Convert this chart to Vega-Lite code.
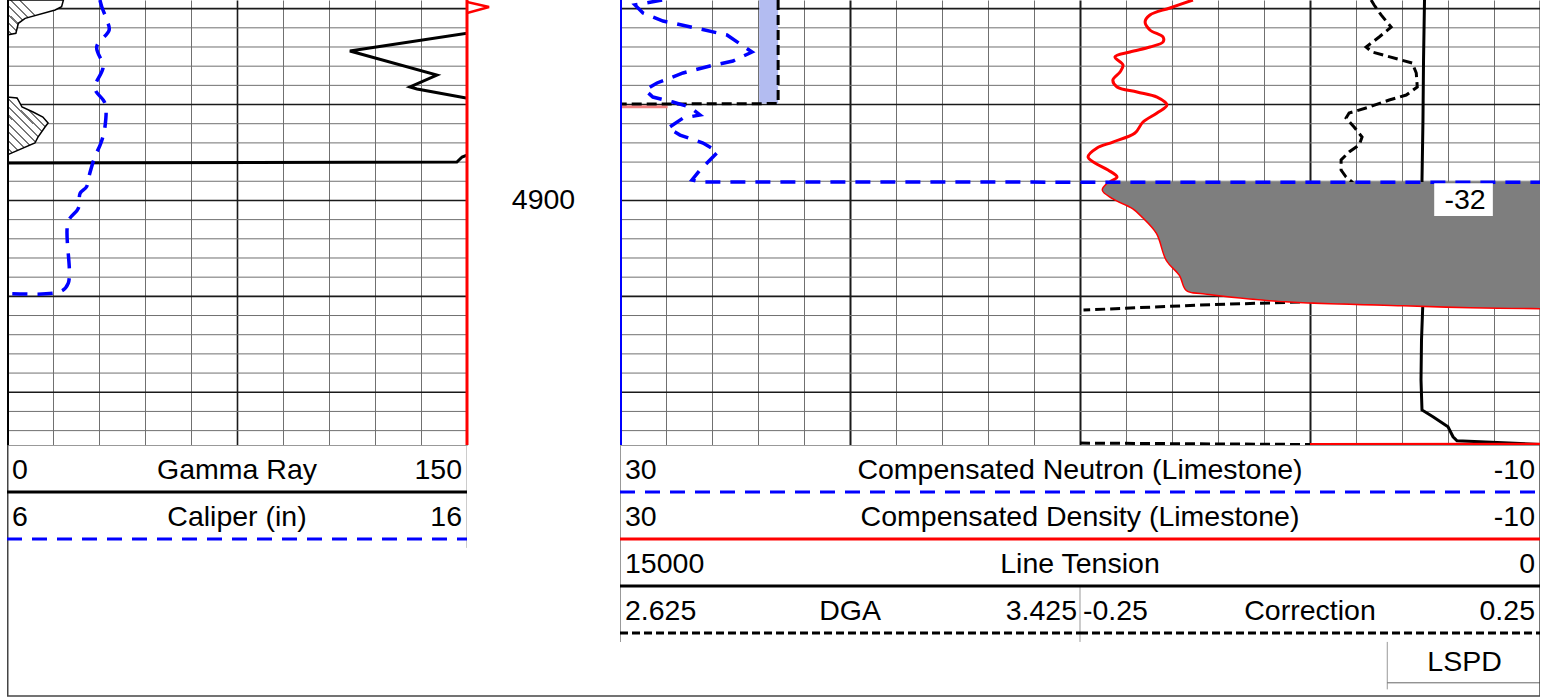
{
"$schema": "https://vega.github.io/schema/vega-lite/v6.json",
"padding": {"left": 7, "top": 0, "right": 0, "bottom": 0},
"autosize": {"type": "pad"},
"config": {"view": {"stroke": null}, "font": "Liberation Sans", "axis": {"minExtent": 0, "maxExtent": 0}, "text": {"font": "Liberation Sans", "fontSize": 28.5, "color": "#000000"}},
"datasets": {
"ygrid": [{"depth":4880},{"depth":4882},{"depth":4884},{"depth":4886},{"depth":4888},{"depth":4890},{"depth":4892},{"depth":4894},{"depth":4896},{"depth":4898},{"depth":4900},{"depth":4902},{"depth":4904},{"depth":4906},{"depth":4908},{"depth":4910},{"depth":4912},{"depth":4914},{"depth":4916},{"depth":4918},{"depth":4920},{"depth":4922},{"depth":4924}],
"gr": [{"depth":4879.10,"gr":185},{"depth":4882.23,"gr":165},{"depth":4882.54,"gr":150.5},{"depth":4884.42,"gr":111.8},{"depth":4886.92,"gr":140.2},{"depth":4888.17,"gr":131.4},{"depth":4888.38,"gr":133.7},{"depth":4889.32,"gr":149.7},{"depth":4889.53,"gr":170},{"depth":4895.16,"gr":151},{"depth":4895.47,"gr":148.4},{"depth":4895.99,"gr":146.7},{"depth":4896.10,"gr":0},{"depth":4925.50,"gr":0}],
"cal": [{"depth":4879.10,"cal":8.02},{"depth":4879.80,"cal":8.06},{"depth":4881.19,"cal":8.17},{"depth":4882.23,"cal":8.22},{"depth":4883.97,"cal":7.95},{"depth":4886.06,"cal":8.09},{"depth":4888.31,"cal":7.91},{"depth":4889.87,"cal":8.13},{"depth":4892.31,"cal":8.13},{"depth":4894.04,"cal":8.04},{"depth":4895.44,"cal":7.91},{"depth":4897.17,"cal":7.80},{"depth":4898.57,"cal":7.73},{"depth":4899.26,"cal":7.59},{"depth":4900.82,"cal":7.55},{"depth":4902.22,"cal":7.33},{"depth":4908.64,"cal":7.33},{"depth":4909.52,"cal":7.15},{"depth":4909.69,"cal":5.99}],
"hatch": [{"depth":4879.10,"shale":18.4},{"depth":4879.80,"shale":17.8},{"depth":4880.14,"shale":15.7},{"depth":4881.01,"shale":5.9},{"depth":4881.53,"shale":3.7},{"depth":4882.57,"shale":2.9},{"depth":4882.75,"shale":0},{"depth":4889.22,"shale":0},{"depth":4889.32,"shale":3.3},{"depth":4890.26,"shale":4.9},{"depth":4890.78,"shale":8.5},{"depth":4891.30,"shale":11.7},{"depth":4891.93,"shale":13.4},{"depth":4892.34,"shale":12.4},{"depth":4893.39,"shale":10.1},{"depth":4894.01,"shale":9.1},{"depth":4895.26,"shale":0}],
"redspike": [{"depth":4879.31,"v":150},{"depth":4879.83,"v":157.2},{"depth":4880.46,"v":150}],
"nphi": [{"depth":4879.10,"nphi":28.17},{"depth":4879.62,"nphi":29.35},{"depth":4880.46,"nphi":29.00},{"depth":4881.29,"nphi":28.13},{"depth":4881.60,"nphi":27.52},{"depth":4882.12,"nphi":26.52},{"depth":4882.75,"nphi":25.35},{"depth":4884.52,"nphi":24.26},{"depth":4885.46,"nphi":25.09},{"depth":4885.98,"nphi":26.09},{"depth":4886.71,"nphi":27.26},{"depth":4887.75,"nphi":28.39},{"depth":4888.49,"nphi":28.91},{"depth":4889.22,"nphi":28.57},{"depth":4889.74,"nphi":27.70},{"depth":4890.26,"nphi":26.96},{"depth":4891.09,"nphi":26.52},{"depth":4891.41,"nphi":27.26},{"depth":4892.45,"nphi":27.91},{"depth":4893.18,"nphi":27.39},{"depth":4894.01,"nphi":26.39},{"depth":4894.95,"nphi":25.74},{"depth":4895.78,"nphi":26.09},{"depth":4896.83,"nphi":26.52},{"depth":4897.87,"nphi":26.87},{"depth":4898.08,"nphi":26.52},{"depth":4898.12,"nphi":-32},{"depth":4925.30,"nphi":-32}],
"pe": [{"depth":4890.23,"pe":30},{"depth":4890.23,"pe":27.93}],
"dens": [{"seg":1,"depth":4879.10,"dens":5.09},{"seg":1,"depth":4879.93,"dens":6.09},{"seg":1,"depth":4880.66,"dens":6.96},{"seg":1,"depth":4881.39,"dens":7.17},{"seg":1,"depth":4882.23,"dens":6.96},{"seg":1,"depth":4882.96,"dens":6.39},{"seg":1,"depth":4883.48,"dens":6.39},{"seg":1,"depth":4884.00,"dens":6.96},{"seg":1,"depth":4884.52,"dens":7.83},{"seg":1,"depth":4885.04,"dens":8.48},{"seg":1,"depth":4885.88,"dens":8.13},{"seg":1,"depth":4886.61,"dens":8.26},{"seg":1,"depth":4887.44,"dens":8.57},{"seg":1,"depth":4888.17,"dens":8.39},{"seg":1,"depth":4888.69,"dens":7.52},{"seg":1,"depth":4889.22,"dens":6.65},{"seg":1,"depth":4890.05,"dens":6.22},{"seg":1,"depth":4890.88,"dens":6.65},{"seg":1,"depth":4891.82,"dens":7.26},{"seg":1,"depth":4892.97,"dens":7.61},{"seg":1,"depth":4893.91,"dens":8.57},{"seg":1,"depth":4894.53,"dens":9.26},{"seg":1,"depth":4895.47,"dens":9.65},{"seg":1,"depth":4896.10,"dens":9.35},{"seg":1,"depth":4896.83,"dens":8.78},{"seg":1,"depth":4897.56,"dens":8.39},{"seg":1,"depth":4898.08,"dens":8.70},{"seg":1,"depth":4898.91,"dens":9.00},{"seg":1,"depth":4899.75,"dens":8.57},{"seg":1,"depth":4900.79,"dens":7.70},{"seg":1,"depth":4901.73,"dens":7.26},{"seg":1,"depth":4903.40,"dens":6.65},{"seg":1,"depth":4906.21,"dens":6.22},{"seg":1,"depth":4907.78,"dens":5.65},{"seg":1,"depth":4909.34,"dens":5.35},{"seg":1,"depth":4909.65,"dens":4.65},{"seg":1,"depth":4910.38,"dens":1.74},{"seg":1,"depth":4910.59,"dens":0.30},{"seg":1,"depth":4910.91,"dens":-4.04},{"seg":1,"depth":4911.11,"dens":-6.96},{"seg":1,"depth":4911.22,"dens":-10.0},{"seg":1,"depth":4911.32,"dens":-12.6},{"seg":1,"depth":4911.50,"dens":-40},{"seg":2,"depth":4925.30,"dens":-40},{"seg":2,"depth":4925.45,"dens":0}],
"tens": [{"depth":4879.10,"tens":1883},{"depth":4885.36,"tens":1899},{"depth":4891.61,"tens":1908},{"depth":4897.87,"tens":1924},{"depth":4904.13,"tens":1916},{"depth":4910.38,"tens":1908},{"depth":4914.56,"tens":1932},{"depth":4918.73,"tens":1940},{"depth":4921.85,"tens":1924},{"depth":4922.55,"tens":1745},{"depth":4923.60,"tens":1500},{"depth":4924.64,"tens":1418},{"depth":4925.06,"tens":1353},{"depth":4925.26,"tens":603},{"depth":4925.45,"tens":0}],
"dga": [{"depth":4879.10,"dga":2.900},{"depth":4889.90,"dga":2.900},{"depth":4889.98,"dga":2.50},{"depth":4925.50,"dga":2.50}],
"corr": [{"seg":1,"depth":4879.10,"corr":0.0664},{"seg":1,"depth":4879.62,"corr":0.0697},{"seg":1,"depth":4880.66,"corr":0.0773},{"seg":1,"depth":4881.92,"corr":0.0882},{"seg":1,"depth":4882.96,"corr":0.0752},{"seg":1,"depth":4884.00,"corr":0.0610},{"seg":1,"depth":4884.52,"corr":0.0675},{"seg":1,"depth":4885.67,"corr":0.1111},{"seg":1,"depth":4886.71,"corr":0.1155},{"seg":1,"depth":4888.17,"corr":0.1166},{"seg":1,"depth":4889.01,"corr":0.1046},{"seg":1,"depth":4889.53,"corr":0.0861},{"seg":1,"depth":4890.26,"corr":0.0643},{"seg":1,"depth":4890.88,"corr":0.0425},{"seg":1,"depth":4891.41,"corr":0.0392},{"seg":1,"depth":4892.34,"corr":0.0479},{"seg":1,"depth":4893.39,"corr":0.0566},{"seg":1,"depth":4894.22,"corr":0.0534},{"seg":1,"depth":4894.95,"corr":0.0425},{"seg":1,"depth":4895.78,"corr":0.0338},{"seg":1,"depth":4896.83,"corr":0.0338},{"seg":1,"depth":4897.56,"corr":0.0392},{"seg":1,"depth":4898.08,"corr":0.0458},{"seg":1,"depth":4904.13,"corr":0.0316},{"seg":1,"depth":4910.59,"corr":-0.0120},{"seg":1,"depth":4910.91,"corr":-0.1209},{"seg":1,"depth":4911.43,"corr":-0.2462},{"seg":2,"depth":4925.30,"corr":-0.25},{"seg":2,"depth":4925.45,"corr":0}],
"depthlbl": [{"depth":4900,"label":"4900"}],
"offlbl": [{"depth":4899.95,"label":"-32"}],
"one": [{"id":1}],
"lspd": [{"label":"LSPD"}],
"hdrL": [{"row":1,"curve":"Gamma Ray","lo":"0","hi":"150"},{"row":2,"curve":"Caliper (in)","lo":"6","hi":"16"}],
"hdrR": [{"row":1,"curve":"Compensated Neutron (Limestone)","lo":"30","hi":"-10"},{"row":2,"curve":"Compensated Density (Limestone)","lo":"30","hi":"-10"},{"row":3,"curve":"Line Tension","lo":"15000","hi":"0"},{"row":4,"curve":"DGA","lo":"2.625","hi":"3.425"},{"row":4,"curve":"Correction","lo":"-0.25","hi":"0.25"}]
},
"spacing": 0,
"resolve": {"scale": {"x": "independent", "y": "independent", "color": "independent", "strokeDash": "independent"}, "axis": {"x": "independent", "y": "independent"}},
"vconcat": [
{"hconcat": [
 {"width": 460, "height": 445,
  "resolve": {"scale": {"x": "independent"}},
  "layer": [
   {"data": {"name": "ygrid"}, "mark": {"type": "rule", "clip": true},
    "encoding": {"y": {"field": "depth", "type": "quantitative", "scale": {"domain": [4879.1, 4925.5], "reverse": true, "nice": false, "zero": false}, "axis": null},
     "color": {"condition": {"test": "datum.depth % 10 === 0", "value": "#1a1a1a"}, "value": "#707070"},
     "strokeWidth": {"condition": {"test": "datum.depth % 10 === 0", "value": 1.6}, "value": 1}}},
   {"data": {"name": "hatch"}, "mark": {"type": "area", "orient": "horizontal", "stroke": "#000000", "strokeWidth": 1.5, "clip": true,
     "fill": {"gradient": "linear", "x1": 0, "y1": 1, "x2": 0.361, "y2": 0, "stops": [
      {"offset":0,"color":"#ffffff"},{"offset":0.036,"color":"#ffffff"},{"offset":0.036,"color":"#777777"},{"offset":0.048,"color":"#777777"},
      {"offset":0.048,"color":"#ffffff"},{"offset":0.084,"color":"#ffffff"},{"offset":0.084,"color":"#777777"},{"offset":0.096,"color":"#777777"},
      {"offset":0.096,"color":"#ffffff"},{"offset":0.132,"color":"#ffffff"},{"offset":0.132,"color":"#777777"},{"offset":0.144,"color":"#777777"},
      {"offset":0.144,"color":"#ffffff"},{"offset":0.180,"color":"#ffffff"},{"offset":0.180,"color":"#777777"},{"offset":0.192,"color":"#777777"},
      {"offset":0.192,"color":"#ffffff"},{"offset":0.228,"color":"#ffffff"},{"offset":0.228,"color":"#777777"},{"offset":0.240,"color":"#777777"},
      {"offset":0.240,"color":"#ffffff"},{"offset":0.276,"color":"#ffffff"},{"offset":0.276,"color":"#777777"},{"offset":0.288,"color":"#777777"},
      {"offset":0.288,"color":"#ffffff"},{"offset":0.324,"color":"#ffffff"},{"offset":0.324,"color":"#777777"},{"offset":0.336,"color":"#777777"},
      {"offset":0.336,"color":"#ffffff"},{"offset":0.372,"color":"#ffffff"},{"offset":0.372,"color":"#777777"},{"offset":0.384,"color":"#777777"},
      {"offset":0.384,"color":"#ffffff"},{"offset":0.420,"color":"#ffffff"},{"offset":0.420,"color":"#777777"},{"offset":0.432,"color":"#777777"},
      {"offset":0.432,"color":"#ffffff"},{"offset":0.468,"color":"#ffffff"},{"offset":0.468,"color":"#777777"},{"offset":0.480,"color":"#777777"},
      {"offset":0.480,"color":"#ffffff"},{"offset":0.516,"color":"#ffffff"},{"offset":0.516,"color":"#777777"},{"offset":0.528,"color":"#777777"},
      {"offset":0.528,"color":"#ffffff"},{"offset":0.564,"color":"#ffffff"},{"offset":0.564,"color":"#777777"},{"offset":0.576,"color":"#777777"},
      {"offset":0.576,"color":"#ffffff"},{"offset":0.612,"color":"#ffffff"},{"offset":0.612,"color":"#777777"},{"offset":0.624,"color":"#777777"},
      {"offset":0.624,"color":"#ffffff"},{"offset":0.660,"color":"#ffffff"},{"offset":0.660,"color":"#777777"},{"offset":0.672,"color":"#777777"},
      {"offset":0.672,"color":"#ffffff"},{"offset":0.708,"color":"#ffffff"},{"offset":0.708,"color":"#777777"},{"offset":0.720,"color":"#777777"},
      {"offset":0.720,"color":"#ffffff"},{"offset":0.756,"color":"#ffffff"},{"offset":0.756,"color":"#777777"},{"offset":0.768,"color":"#777777"},
      {"offset":0.768,"color":"#ffffff"},{"offset":0.804,"color":"#ffffff"},{"offset":0.804,"color":"#777777"},{"offset":0.816,"color":"#777777"},
      {"offset":0.816,"color":"#ffffff"},{"offset":0.852,"color":"#ffffff"},{"offset":0.852,"color":"#777777"},{"offset":0.864,"color":"#777777"},
      {"offset":0.864,"color":"#ffffff"},{"offset":0.900,"color":"#ffffff"},{"offset":0.900,"color":"#777777"},{"offset":0.912,"color":"#777777"},
      {"offset":0.912,"color":"#ffffff"},{"offset":0.948,"color":"#ffffff"},{"offset":0.948,"color":"#777777"},{"offset":0.960,"color":"#777777"},
      {"offset":0.960,"color":"#ffffff"},{"offset":1,"color":"#ffffff"}]}},
    "encoding": {"y": {"field": "depth", "type": "quantitative", "scale": {"domain": [4879.1, 4925.5], "reverse": true, "nice": false, "zero": false}, "axis": null},
     "x": {"field": "shale", "type": "quantitative", "stack": null, "scale": {"domain": [0, 150], "nice": false, "zero": false}, "axis": null}}},
   {"data": {"name": "gr"}, "mark": {"type": "line", "color": "#000000", "strokeWidth": 3, "clip": true},
    "encoding": {"y": {"field": "depth", "type": "quantitative", "scale": {"domain": [4879.1, 4925.5], "reverse": true, "nice": false, "zero": false}, "axis": null},
     "x": {"field": "gr", "type": "quantitative", "scale": {"domain": [0, 150], "nice": false, "zero": false},
      "axis": {"grid": true, "values": [0,15,30,45,60,75,90,105,120,135,150], "labels": false, "ticks": false, "domain": false, "title": null,
       "gridColor": {"condition": {"test": "datum.value === 75", "value": "#1a1a1a"}, "value": "#707070"},
       "gridWidth": {"condition": {"test": "datum.value === 75", "value": 1.6}, "value": 1}}},
     "order": {"field": "depth"}}},
   {"data": {"name": "cal"}, "mark": {"type": "line", "color": "#0000ff", "strokeWidth": 3.5, "strokeDash": [15, 10], "interpolate": "catmull-rom", "clip": true},
    "encoding": {"y": {"field": "depth", "type": "quantitative", "scale": {"domain": [4879.1, 4925.5], "reverse": true, "nice": false, "zero": false}, "axis": null},
     "x": {"field": "cal", "type": "quantitative", "scale": {"domain": [6, 16], "nice": false, "zero": false}, "axis": null},
     "order": {"field": "depth"}}},
   {"data": {"name": "one"}, "mark": {"type": "rule", "color": "#ff0000", "strokeWidth": 3, "clip": true},
    "encoding": {"x": {"datum": 150, "type": "quantitative", "scale": {"domain": [0, 150], "nice": false, "zero": false}, "axis": null}}},
   {"data": {"name": "one"}, "mark": {"type": "rule", "color": "#000000", "strokeWidth": 4, "clip": true},
    "encoding": {"x": {"datum": 0, "type": "quantitative", "scale": {"domain": [0, 150], "nice": false, "zero": false}, "axis": null}}}
  ]},
 {"width": 153, "height": 445,
  "layer": [
   {"data": {"name": "one"}, "mark": {"type": "rule", "color": "#ff0000", "strokeWidth": 3, "clip": true},
    "encoding": {"x": {"datum": 150, "type": "quantitative", "scale": {"domain": [150, 199.9], "nice": false, "zero": false}, "axis": null}}},
   {"data": {"name": "redspike"}, "mark": {"type": "line", "color": "#ff0000", "strokeWidth": 2.5, "clip": true},
    "encoding": {"y": {"field": "depth", "type": "quantitative", "scale": {"domain": [4879.1, 4925.5], "reverse": true, "nice": false, "zero": false}, "axis": null},
     "x": {"field": "v", "type": "quantitative", "scale": {"domain": [150, 199.9], "nice": false, "zero": false}, "axis": null},
     "order": {"field": "depth"}}},
   {"data": {"name": "depthlbl"},
    "mark": {"type": "text", "fontSize": 28.5, "align": "center", "baseline": "middle"},
    "encoding": {"y": {"field": "depth", "type": "quantitative", "scale": {"domain": [4879.1, 4925.5], "reverse": true, "nice": false, "zero": false}, "axis": null},
     "x": {"datum": 174.95, "type": "quantitative", "scale": {"domain": [150, 199.9], "nice": false, "zero": false}, "axis": null},
     "text": {"field": "label"}}}
  ]},
 {"width": 920, "height": 445,
  "resolve": {"scale": {"x": "independent"}},
  "layer": [
   {"data": {"name": "ygrid"}, "mark": {"type": "rule", "clip": true},
    "encoding": {"y": {"field": "depth", "type": "quantitative", "scale": {"domain": [4879.1, 4925.5], "reverse": true, "nice": false, "zero": false}, "axis": null},
     "color": {"condition": {"test": "datum.depth % 10 === 0", "value": "#1a1a1a"}, "value": "#707070"},
     "strokeWidth": {"condition": {"test": "datum.depth % 10 === 0", "value": 1.6}, "value": 1}}},
   {"data": {"name": "dga"}, "transform": [{"filter": "datum.dga > 2.8"}],
    "mark": {"type": "area", "orient": "horizontal", "fill": "#b3bcf1", "clip": true},
    "encoding": {"y": {"field": "depth", "type": "quantitative", "scale": {"domain": [4879.1, 4925.5], "reverse": true, "nice": false, "zero": false}, "axis": null},
     "x": {"field": "dga", "type": "quantitative", "stack": null, "scale": {"domain": [2.625, 4.225], "nice": false, "zero": false}, "axis": null},
     "x2": {"datum": 2.867}}},
   {"data": {"name": "corr"}, "mark": {"type": "line", "color": "#000000", "strokeWidth": 3, "strokeDash": [10, 5], "clip": true},
    "encoding": {"y": {"field": "depth", "type": "quantitative", "scale": {"domain": [4879.1, 4925.5], "reverse": true, "nice": false, "zero": false}, "axis": null},
     "x": {"field": "corr", "type": "quantitative", "scale": {"domain": [-0.75, 0.25], "nice": false, "zero": false}, "axis": null},
     "detail": {"field": "seg", "type": "nominal"},
     "order": {"field": "depth"}}},
   {"data": {"name": "tens"}, "mark": {"type": "line", "color": "#000000", "strokeWidth": 3, "clip": true},
    "encoding": {"y": {"field": "depth", "type": "quantitative", "scale": {"domain": [4879.1, 4925.5], "reverse": true, "nice": false, "zero": false}, "axis": null},
     "x": {"field": "tens", "type": "quantitative", "scale": {"domain": [15000, 0], "nice": false, "zero": false}, "axis": null},
     "order": {"field": "depth"}}},
   {"data": {"name": "dens"}, "mark": {"type": "line", "color": "#ff0000", "strokeWidth": 3, "interpolate": "catmull-rom", "clip": true},
    "encoding": {"y": {"field": "depth", "type": "quantitative", "scale": {"domain": [4879.1, 4925.5], "reverse": true, "nice": false, "zero": false}, "axis": null},
     "x": {"field": "dens", "type": "quantitative", "scale": {"domain": [30, -10], "nice": false, "zero": false}, "axis": null},
     "detail": {"field": "seg", "type": "nominal"},
     "order": {"field": "depth"}}},
   {"data": {"name": "dens"}, "transform": [{"filter": "datum.depth >= 4898.08 && datum.depth <= 4911.32"}],
    "mark": {"type": "area", "orient": "horizontal", "fill": "#7e7e7e", "interpolate": "catmull-rom", "clip": true},
    "encoding": {"y": {"field": "depth", "type": "quantitative", "scale": {"domain": [4879.1, 4925.5], "reverse": true, "nice": false, "zero": false}, "axis": null},
     "x": {"field": "dens", "type": "quantitative", "stack": null, "scale": {"domain": [30, -10], "nice": false, "zero": false}, "axis": null},
     "x2": {"datum": -32}}},
   {"data": {"name": "pe"}, "mark": {"type": "line", "color": "#f08080", "strokeWidth": 3, "clip": true},
    "encoding": {"y": {"field": "depth", "type": "quantitative", "scale": {"domain": [4879.1, 4925.5], "reverse": true, "nice": false, "zero": false}, "axis": null},
     "x": {"field": "pe", "type": "quantitative", "scale": {"domain": [30, -10], "nice": false, "zero": false}, "axis": null},
     "order": {"field": "pe"}}},
   {"data": {"name": "dga"}, "mark": {"type": "line", "color": "#000000", "strokeWidth": 3, "strokeDash": [10, 5], "clip": true},
    "encoding": {"y": {"field": "depth", "type": "quantitative", "scale": {"domain": [4879.1, 4925.5], "reverse": true, "nice": false, "zero": false}, "axis": null},
     "x": {"field": "dga", "type": "quantitative", "scale": {"domain": [2.625, 4.225], "nice": false, "zero": false}, "axis": null},
     "order": {"field": "depth"}}},
   {"data": {"name": "nphi"}, "mark": {"type": "line", "color": "#0000ff", "strokeWidth": 3.5, "strokeDash": [15, 10], "clip": true},
    "encoding": {"y": {"field": "depth", "type": "quantitative", "scale": {"domain": [4879.1, 4925.5], "reverse": true, "nice": false, "zero": false}, "axis": null},
     "x": {"field": "nphi", "type": "quantitative", "scale": {"domain": [30, -10], "nice": false, "zero": false},
      "axis": {"grid": true, "values": [30,28,26,24,22,20,18,16,14,12,10,8,6,4,2,0,-2,-4,-6,-8,-10], "labels": false, "ticks": false, "domain": false, "title": null,
       "gridColor": {"condition": {"test": "datum.value % 10 === 0 && datum.value < 30", "value": "#1a1a1a"}, "value": "#707070"},
       "gridWidth": {"condition": {"test": "datum.value % 10 === 0 && datum.value < 30", "value": 2}, "value": 1}}},
     "order": {"field": "depth"}}},
   {"data": {"name": "offlbl"}, "mark": {"type": "rect", "fill": "#ffffff", "clip": true},
    "encoding": {"x": {"datum": -5.4, "type": "quantitative", "scale": {"domain": [30, -10], "nice": false, "zero": false}, "axis": null},
     "x2": {"datum": -7.95},
     "y": {"datum": 4898.2, "type": "quantitative", "scale": {"domain": [4879.1, 4925.5], "reverse": true, "nice": false, "zero": false}, "axis": null},
     "y2": {"datum": 4901.62}}},
   {"data": {"name": "offlbl"}, "mark": {"type": "text", "fontSize": 28.5, "align": "center", "baseline": "middle"},
    "encoding": {"x": {"datum": -6.74, "type": "quantitative", "scale": {"domain": [30, -10], "nice": false, "zero": false}, "axis": null},
     "y": {"field": "depth", "type": "quantitative", "scale": {"domain": [4879.1, 4925.5], "reverse": true, "nice": false, "zero": false}, "axis": null},
     "text": {"field": "label"}}},
   {"data": {"name": "one"}, "mark": {"type": "rule", "color": "#0000ff", "strokeWidth": 4, "clip": true},
    "encoding": {"x": {"datum": 30, "type": "quantitative", "scale": {"domain": [30, -10], "nice": false, "zero": false}, "axis": null}}}
  ]}
], "spacing": 0, "bounds": "flush",
 "resolve": {"scale": {"x": "independent", "y": "independent"}, "axis": {"x": "independent", "y": "independent"}}},
{"hconcat": [
 {"width": 460, "height": 252,
  "layer": [
   {"data": {"name": "one"}, "mark": {"type": "rule", "color": "#999999", "strokeWidth": 2, "clip": true},
    "encoding": {"x": {"datum": 0, "type": "quantitative", "scale": {"domain": [0, 1], "nice": false, "zero": false}, "axis": null}, "x2": {"datum": 1},
     "y": {"datum": 0, "type": "quantitative", "scale": {"domain": [0, 5.362], "reverse": true, "nice": false, "zero": false}, "axis": null}}},
   {"data": {"name": "one"}, "mark": {"type": "rule", "color": "#444444", "strokeWidth": 3, "clip": true},
    "encoding": {"x": {"datum": 0, "type": "quantitative", "scale": {"domain": [0, 1], "nice": false, "zero": false}, "axis": null},
     "y": {"datum": 0, "type": "quantitative", "scale": {"domain": [0, 5.362], "reverse": true, "nice": false, "zero": false}, "axis": null}, "y2": {"datum": 5.34}}},
   {"data": {"name": "one"}, "mark": {"type": "rule", "color": "#444444", "strokeWidth": 1.5, "clip": true},
    "encoding": {"x": {"datum": 0, "type": "quantitative", "scale": {"domain": [0, 1], "nice": false, "zero": false}, "axis": null}, "x2": {"datum": 1},
     "y": {"datum": 5.34, "type": "quantitative", "scale": {"domain": [0, 5.362], "reverse": true, "nice": false, "zero": false}, "axis": null}}},
   {"data": {"name": "one"}, "mark": {"type": "rule", "color": "#999999", "strokeWidth": 1, "clip": true},
    "encoding": {"x": {"datum": 1, "type": "quantitative", "scale": {"domain": [0, 1], "nice": false, "zero": false}, "axis": null},
     "y": {"datum": 0, "type": "quantitative", "scale": {"domain": [0, 5.362], "reverse": true, "nice": false, "zero": false}, "axis": null}, "y2": {"datum": 2.19}}},
   {"data": {"name": "hdrL"}, "mark": {"type": "rule", "strokeWidth": 3, "clip": true},
    "encoding": {"x": {"datum": 0, "type": "quantitative", "scale": {"domain": [0, 1], "nice": false, "zero": false}, "axis": null}, "x2": {"datum": 1},
     "y": {"field": "row", "type": "quantitative", "scale": {"domain": [0, 5.362], "reverse": true, "nice": false, "zero": false}, "axis": null},
     "color": {"field": "curve", "type": "nominal", "legend": null, "scale": {"domain": ["Gamma Ray","Caliper (in)"], "range": ["#000000","#0000ff"]}},
     "strokeDash": {"field": "curve", "type": "nominal", "legend": null, "scale": {"domain": ["Gamma Ray","Caliper (in)"], "range": [[1,0],[15,10]]}}}},
   {"data": {"name": "hdrL"}, "mark": {"type": "text", "align": "left", "baseline": "alphabetic", "dx": 5, "dy": -13, "fontSize": 28.5},
    "encoding": {"x": {"datum": 0, "type": "quantitative", "scale": {"domain": [0, 1], "nice": false, "zero": false}, "axis": null},
     "y": {"field": "row", "type": "quantitative", "scale": {"domain": [0, 5.362], "reverse": true, "nice": false, "zero": false}, "axis": null},
     "text": {"field": "lo"}}},
   {"data": {"name": "hdrL"}, "mark": {"type": "text", "align": "center", "baseline": "alphabetic", "dy": -13, "fontSize": 28.5},
    "encoding": {"x": {"datum": 0.5, "type": "quantitative", "scale": {"domain": [0, 1], "nice": false, "zero": false}, "axis": null},
     "y": {"field": "row", "type": "quantitative", "scale": {"domain": [0, 5.362], "reverse": true, "nice": false, "zero": false}, "axis": null},
     "text": {"field": "curve"}}},
   {"data": {"name": "hdrL"}, "mark": {"type": "text", "align": "right", "baseline": "alphabetic", "dx": -5, "dy": -13, "fontSize": 28.5},
    "encoding": {"x": {"datum": 1, "type": "quantitative", "scale": {"domain": [0, 1], "nice": false, "zero": false}, "axis": null},
     "y": {"field": "row", "type": "quantitative", "scale": {"domain": [0, 5.362], "reverse": true, "nice": false, "zero": false}, "axis": null},
     "text": {"field": "hi"}}}
  ]},
 {"width": 153, "height": 252,
  "data": {"name": "one"}, "mark": {"type": "rule", "color": "#444444", "strokeWidth": 1.5, "clip": true},
  "encoding": {"x": {"datum": 0, "type": "quantitative", "scale": {"domain": [0, 1], "nice": false, "zero": false}, "axis": null}, "x2": {"datum": 1},
   "y": {"datum": 5.34, "type": "quantitative", "scale": {"domain": [0, 5.362], "reverse": true, "nice": false, "zero": false}, "axis": null}}},
 {"width": 920, "height": 252,
  "layer": [
   {"data": {"name": "one"}, "mark": {"type": "rule", "color": "#999999", "strokeWidth": 2, "clip": true},
    "encoding": {"x": {"datum": 0, "type": "quantitative", "scale": {"domain": [0, 1], "nice": false, "zero": false}, "axis": null}, "x2": {"datum": 1},
     "y": {"datum": 0, "type": "quantitative", "scale": {"domain": [0, 5.362], "reverse": true, "nice": false, "zero": false}, "axis": null}}},
   {"data": {"name": "one"}, "mark": {"type": "rule", "color": "#999999", "strokeWidth": 2, "clip": true},
    "encoding": {"x": {"datum": 0, "type": "quantitative", "scale": {"domain": [0, 1], "nice": false, "zero": false}, "axis": null},
     "y": {"datum": 0, "type": "quantitative", "scale": {"domain": [0, 5.362], "reverse": true, "nice": false, "zero": false}, "axis": null}, "y2": {"datum": 4.19}}},
   {"data": {"name": "one"}, "mark": {"type": "rule", "color": "#999999", "strokeWidth": 1, "clip": true},
    "encoding": {"x": {"datum": 0.5, "type": "quantitative", "scale": {"domain": [0, 1], "nice": false, "zero": false}, "axis": null},
     "y": {"datum": 3, "type": "quantitative", "scale": {"domain": [0, 5.362], "reverse": true, "nice": false, "zero": false}, "axis": null}, "y2": {"datum": 4.19}}},
   {"data": {"name": "one"}, "mark": {"type": "rule", "color": "#999999", "strokeWidth": 1, "clip": true},
    "encoding": {"x": {"datum": 0.834, "type": "quantitative", "scale": {"domain": [0, 1], "nice": false, "zero": false}, "axis": null},
     "y": {"datum": 4.19, "type": "quantitative", "scale": {"domain": [0, 5.362], "reverse": true, "nice": false, "zero": false}, "axis": null}, "y2": {"datum": 5.2}}},
   {"data": {"name": "one"}, "mark": {"type": "rule", "color": "#666666", "strokeWidth": 1, "clip": true},
    "encoding": {"x": {"datum": 0.834, "type": "quantitative", "scale": {"domain": [0, 1], "nice": false, "zero": false}, "axis": null}, "x2": {"datum": 1},
     "y": {"datum": 5.06, "type": "quantitative", "scale": {"domain": [0, 5.362], "reverse": true, "nice": false, "zero": false}, "axis": null}}},
   {"data": {"name": "one"}, "mark": {"type": "rule", "color": "#444444", "strokeWidth": 1.5, "clip": true},
    "encoding": {"x": {"datum": 1, "type": "quantitative", "scale": {"domain": [0, 1], "nice": false, "zero": false}, "axis": null},
     "y": {"datum": 0, "type": "quantitative", "scale": {"domain": [0, 5.362], "reverse": true, "nice": false, "zero": false}, "axis": null}, "y2": {"datum": 5.34}}},
   {"data": {"name": "one"}, "mark": {"type": "rule", "color": "#444444", "strokeWidth": 1.5, "clip": true},
    "encoding": {"x": {"datum": 0, "type": "quantitative", "scale": {"domain": [0, 1], "nice": false, "zero": false}, "axis": null}, "x2": {"datum": 1},
     "y": {"datum": 5.34, "type": "quantitative", "scale": {"domain": [0, 5.362], "reverse": true, "nice": false, "zero": false}, "axis": null}}},
   {"data": {"name": "lspd"}, "mark": {"type": "text", "align": "center", "baseline": "alphabetic", "fontSize": 28.5},
    "encoding": {"x": {"datum": 0.918, "type": "quantitative", "scale": {"domain": [0, 1], "nice": false, "zero": false}, "axis": null},
     "y": {"datum": 4.8, "type": "quantitative", "scale": {"domain": [0, 5.362], "reverse": true, "nice": false, "zero": false}, "axis": null},
     "text": {"field": "label"}}},
   {"data": {"name": "hdrR"}, "transform": [{"filter": "datum.row <= 3"}],
    "layer": [
     {"mark": {"type": "rule", "strokeWidth": 3, "clip": true},
      "encoding": {"x": {"datum": 0, "type": "quantitative", "scale": {"domain": [0, 1], "nice": false, "zero": false}, "axis": null}, "x2": {"datum": 1},
       "y": {"field": "row", "type": "quantitative", "scale": {"domain": [0, 5.362], "reverse": true, "nice": false, "zero": false}, "axis": null},
       "color": {"field": "curve", "type": "nominal", "legend": null, "scale": {"domain": ["Compensated Neutron (Limestone)","Compensated Density (Limestone)","Line Tension"], "range": ["#0000ff","#ff0000","#000000"]}},
       "strokeDash": {"field": "curve", "type": "nominal", "legend": null, "scale": {"domain": ["Compensated Neutron (Limestone)","Compensated Density (Limestone)","Line Tension"], "range": [[15,10],[1,0],[1,0]]}}}},
     {"mark": {"type": "text", "align": "left", "baseline": "alphabetic", "dx": 5, "dy": -13, "fontSize": 28.5},
      "encoding": {"x": {"datum": 0, "type": "quantitative", "scale": {"domain": [0, 1], "nice": false, "zero": false}, "axis": null},
       "y": {"field": "row", "type": "quantitative", "scale": {"domain": [0, 5.362], "reverse": true, "nice": false, "zero": false}, "axis": null},
       "text": {"field": "lo"}}},
     {"mark": {"type": "text", "align": "center", "baseline": "alphabetic", "dy": -13, "fontSize": 28.5},
      "encoding": {"x": {"datum": 0.5, "type": "quantitative", "scale": {"domain": [0, 1], "nice": false, "zero": false}, "axis": null},
       "y": {"field": "row", "type": "quantitative", "scale": {"domain": [0, 5.362], "reverse": true, "nice": false, "zero": false}, "axis": null},
       "text": {"field": "curve"}}},
     {"mark": {"type": "text", "align": "right", "baseline": "alphabetic", "dx": -5, "dy": -13, "fontSize": 28.5},
      "encoding": {"x": {"datum": 1, "type": "quantitative", "scale": {"domain": [0, 1], "nice": false, "zero": false}, "axis": null},
       "y": {"field": "row", "type": "quantitative", "scale": {"domain": [0, 5.362], "reverse": true, "nice": false, "zero": false}, "axis": null},
       "text": {"field": "hi"}}}
    ]},
   {"data": {"name": "hdrR"}, "transform": [{"filter": "datum.curve === 'DGA'"}],
    "layer": [
     {"mark": {"type": "rule", "strokeWidth": 3, "color": "#000000", "strokeDash": [8, 4], "clip": true},
      "encoding": {"x": {"datum": 0, "type": "quantitative", "scale": {"domain": [0, 1], "nice": false, "zero": false}, "axis": null}, "x2": {"datum": 0.5},
       "y": {"field": "row", "type": "quantitative", "scale": {"domain": [0, 5.362], "reverse": true, "nice": false, "zero": false}, "axis": null}}},
     {"mark": {"type": "text", "align": "left", "baseline": "alphabetic", "dx": 5, "dy": -13, "fontSize": 28.5},
      "encoding": {"x": {"datum": 0, "type": "quantitative", "scale": {"domain": [0, 1], "nice": false, "zero": false}, "axis": null},
       "y": {"field": "row", "type": "quantitative", "scale": {"domain": [0, 5.362], "reverse": true, "nice": false, "zero": false}, "axis": null},
       "text": {"field": "lo"}}},
     {"mark": {"type": "text", "align": "center", "baseline": "alphabetic", "dy": -13, "fontSize": 28.5},
      "encoding": {"x": {"datum": 0.25, "type": "quantitative", "scale": {"domain": [0, 1], "nice": false, "zero": false}, "axis": null},
       "y": {"field": "row", "type": "quantitative", "scale": {"domain": [0, 5.362], "reverse": true, "nice": false, "zero": false}, "axis": null},
       "text": {"field": "curve"}}},
     {"mark": {"type": "text", "align": "right", "baseline": "alphabetic", "dx": -3, "dy": -13, "fontSize": 28.5},
      "encoding": {"x": {"datum": 0.5, "type": "quantitative", "scale": {"domain": [0, 1], "nice": false, "zero": false}, "axis": null},
       "y": {"field": "row", "type": "quantitative", "scale": {"domain": [0, 5.362], "reverse": true, "nice": false, "zero": false}, "axis": null},
       "text": {"field": "hi"}}}
    ]},
   {"data": {"name": "hdrR"}, "transform": [{"filter": "datum.curve === 'Correction'"}],
    "layer": [
     {"mark": {"type": "rule", "strokeWidth": 3, "color": "#000000", "strokeDash": [8, 4], "clip": true},
      "encoding": {"x": {"datum": 0.5, "type": "quantitative", "scale": {"domain": [0, 1], "nice": false, "zero": false}, "axis": null}, "x2": {"datum": 1},
       "y": {"field": "row", "type": "quantitative", "scale": {"domain": [0, 5.362], "reverse": true, "nice": false, "zero": false}, "axis": null}}},
     {"mark": {"type": "text", "align": "left", "baseline": "alphabetic", "dx": 3, "dy": -13, "fontSize": 28.5},
      "encoding": {"x": {"datum": 0.5, "type": "quantitative", "scale": {"domain": [0, 1], "nice": false, "zero": false}, "axis": null},
       "y": {"field": "row", "type": "quantitative", "scale": {"domain": [0, 5.362], "reverse": true, "nice": false, "zero": false}, "axis": null},
       "text": {"field": "lo"}}},
     {"mark": {"type": "text", "align": "center", "baseline": "alphabetic", "dy": -13, "fontSize": 28.5},
      "encoding": {"x": {"datum": 0.75, "type": "quantitative", "scale": {"domain": [0, 1], "nice": false, "zero": false}, "axis": null},
       "y": {"field": "row", "type": "quantitative", "scale": {"domain": [0, 5.362], "reverse": true, "nice": false, "zero": false}, "axis": null},
       "text": {"field": "curve"}}},
     {"mark": {"type": "text", "align": "right", "baseline": "alphabetic", "dx": -5, "dy": -13, "fontSize": 28.5},
      "encoding": {"x": {"datum": 1, "type": "quantitative", "scale": {"domain": [0, 1], "nice": false, "zero": false}, "axis": null},
       "y": {"field": "row", "type": "quantitative", "scale": {"domain": [0, 5.362], "reverse": true, "nice": false, "zero": false}, "axis": null},
       "text": {"field": "hi"}}}
    ]}
  ]}
], "spacing": 0, "bounds": "flush",
 "resolve": {"scale": {"x": "independent", "y": "independent", "color": "independent", "strokeDash": "independent"}, "axis": {"x": "independent", "y": "independent"}}}
]
}
